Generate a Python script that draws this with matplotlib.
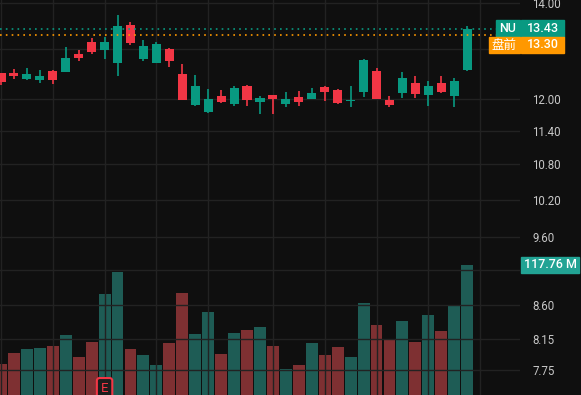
import matplotlib.pyplot as plt
from matplotlib.patches import Rectangle
from matplotlib.ticker import FixedLocator, NullLocator

# daily candles
opens = [12.51, 12.51, 12.39, 12.37, 12.55, 12.53, 12.90, 13.15, 12.98, 12.71,
         13.51, 12.79, 12.71, 13.00, 12.49, 11.88, 11.75, 12.05, 11.90, 12.25,
         11.94, 12.07, 11.90, 12.03, 11.99, 12.23, 12.17, 11.96, 12.13, 12.55,
         11.97, 12.11, 12.31, 12.07, 12.31, 12.05, 12.57]
highs = [12.51, 12.59, 12.61, 12.57, 12.57, 13.04, 12.98, 13.23, 13.25, 13.73,
         13.58, 13.19, 13.15, 13.02, 12.69, 12.47, 12.19, 12.17, 12.25, 12.27,
         12.05, 12.07, 12.13, 12.15, 12.21, 12.25, 12.19, 12.25, 12.79, 12.61,
         12.05, 12.53, 12.45, 12.35, 12.45, 12.41, 13.49]
lows = [12.27, 12.39, 12.37, 12.31, 12.29, 12.53, 12.75, 12.90, 12.79, 12.45,
        13.08, 12.75, 12.71, 12.63, 11.97, 11.86, 11.73, 11.92, 11.86, 11.86,
        11.71, 11.71, 11.84, 11.86, 11.99, 11.96, 11.90, 11.84, 12.03, 11.99,
        11.84, 12.01, 12.01, 11.86, 12.11, 11.84, 12.55]
closes = [12.33, 12.45, 12.49, 12.45, 12.37, 12.81, 12.81, 12.94, 13.15, 13.49,
          13.12, 13.06, 13.10, 12.75, 11.97, 12.25, 11.99, 11.94, 12.21, 11.97,
          12.01, 11.99, 11.99, 11.94, 12.11, 12.13, 11.92, 11.97, 12.77, 11.99,
          11.88, 12.41, 12.09, 12.25, 12.13, 12.35, 13.43]
# volume in millions
volumes = [28.1, 38.0, 41.7, 42.6, 44.4, 54.3, 34.4, 48.0, 91.5, 111.4,
           41.7, 36.2, 27.2, 47.1, 92.4, 55.3, 75.2, 37.1, 56.2, 58.9,
           61.6, 44.4, 23.6, 27.2, 47.1, 36.2, 43.5, 34.4, 83.3, 63.4,
           50.7, 67.0, 48.0, 72.5, 58.0, 80.6, 117.76]
price_ticks = [7.75, 8.15, 8.60, 9.10, 9.60, 10.20, 10.80, 11.40, 12.00, 13.00, 14.00]
hidden_ticks = [9.10, 13.00]  # covered by the value tags in the original
week_starts = [0, 4, 8, 12, 16, 21, 25, 29, 33, 37]
last_price = 13.43
premarket = 13.30
earnings_day = 8

bg = '#0f0f0f'
up = '#089981'
down = '#f23645'
up_vol = '#1e5c55'
down_vol = '#7e3032'
grid_c = '#222222'

plt.rcParams['font.family'] = ['Roboto', 'Noto Sans CJK SC', 'DejaVu Sans']

W, H = 581, 395
fig = plt.figure(figsize=(W / 100, H / 100), dpi=100, facecolor=bg)
rect = [0, 0, 520 / W, 1]
ax_vol = fig.add_axes(rect)
ax = fig.add_axes(rect)

n = len(closes)
xs = list(range(n))
xlim = (-0.077, 40.08)

# volume
ax_vol.set_facecolor(bg)
vcols = [up_vol if c >= o else down_vol for o, c in zip(opens, closes)]
ax_vol.bar(xs, volumes, width=0.92, color=vcols, zorder=2)
ax_vol.set_xlim(*xlim)
ax_vol.set_ylim(0, 117.76 * 395 / 130)
ax_vol.axis('off')

# price
ax.set_facecolor('none')
ax.set_yscale('log')
ax.set_xlim(*xlim)
ax.set_ylim(7.444, 14.068)
cols = [up if c >= o else down for o, c in zip(opens, closes)]
ax.vlines(xs, lows, highs, color=cols, linewidth=1.2, zorder=3)
bottoms = [min(o, c) for o, c in zip(opens, closes)]
heights = [max(abs(c - o), 0.012) for o, c in zip(opens, closes)]
ax.bar(xs, heights, bottom=bottoms, width=0.7, color=cols, zorder=4)

ax.axhline(last_price, color=up, linestyle=(0, (1, 2.5)), linewidth=1.2, zorder=5)
ax.axhline(premarket, color='#ff9800', linestyle=(0, (1, 2.5)), linewidth=1.2, zorder=5)

ax.yaxis.set_major_locator(FixedLocator(price_ticks))
ax.yaxis.set_minor_locator(NullLocator())
ax.set_yticklabels(['' if t in hidden_ticks else '%.2f' % t for t in price_ticks])
ax.yaxis.tick_right()
ax.tick_params(axis='y', length=0, pad=9, labelsize=8.3, labelcolor='#c8c8c8')
ax.set_xticks(week_starts)
ax.tick_params(axis='x', length=0, labelbottom=False)
ax.grid(True, color=grid_c, linewidth=1)
for s in ax.spines.values():
    s.set_visible(False)

# earnings badge (its box runs off the bottom edge, as in the original)
ax.text(earnings_day, 0.0, 'E', transform=ax.get_xaxis_transform(), ha='center', va='bottom',
        color=down, fontsize=9.5, zorder=6,
        bbox=dict(boxstyle='round,pad=0.3,rounding_size=0.2', fc='#1c1c1c', ec=down, lw=1.5))


def tag(x0, x1, y0, y1, color, txt, size=9):
    fig.add_artist(Rectangle((x0 / W, 1 - y1 / H), (x1 - x0) / W, (y1 - y0) / H,
                             transform=fig.transFigure, color=color, zorder=10))
    fig.text((x0 + x1) / 2 / W, 1 - (y0 + y1) / 2 / H, txt, ha='center', va='center',
             color='white', fontsize=size, fontweight='medium', zorder=11)


tag(496, 520, 20, 37, up, 'NU')
tag(521, 564, 20, 37, up, '%.2f' % last_price)
tag(489, 520, 37, 53, '#ff9800', '盘前')
tag(521, 564, 37, 53, '#ff9800', '%.2f' % premarket)
tag(521, 579, 257, 273, '#22a394', '%.2f M' % volumes[-1])

plt.savefig('out.png', dpi=100, facecolor=bg)
